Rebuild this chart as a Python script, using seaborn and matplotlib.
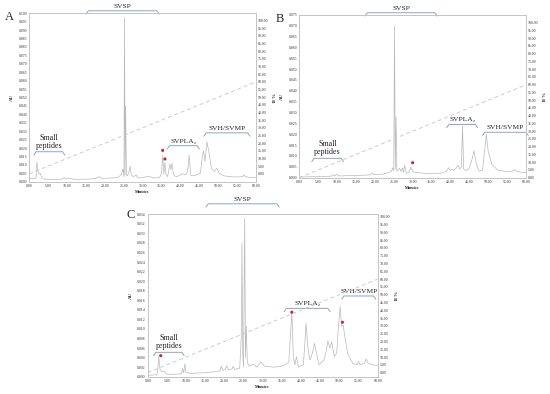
import numpy as np
import matplotlib
matplotlib.use("Agg")
import matplotlib.pyplot as plt
import seaborn as sns

# ---------------------------------------------------------------------------
# DATA
# ---------------------------------------------------------------------------
A_TIME = [0, 1.5, 1.8, 2.0, 2.3, 2.6, 2.9, 3.3, 4.0, 6, 8.8, 9.2, 9.6, 10.2, 12, 15,
          17.5, 18.5, 19.2, 21, 23.5, 24.4, 24.8, 25.05, 25.2, 25.35, 25.5, 25.7, 26.0,
          26.4, 26.7, 27.0, 27.5, 28.3, 28.6, 29, 30, 31.5, 33, 34.5, 35.0, 35.3, 35.6,
          35.9, 36.2, 36.6, 37.2, 37.5, 37.8, 38.1, 38.4, 39, 40, 40.6, 41.3, 41.9, 42.3,
          42.7, 43.2, 44.2, 45.3, 45.8, 46.1, 46.5, 47.0, 47.5, 48.2, 49.0, 49.6, 50.3,
          51.5, 53, 55, 56.5, 56.8, 57.2, 58.5, 60]
A_AU = [0.0018, 0.0018, 0.0025, 0.0117, 0.006, 0.0045, 0.005, 0.0025, 0.0015, 0.0014,
        0.0015, 0.0025, 0.0016, 0.0022, 0.0014, 0.0015, 0.0018, 0.003, 0.002, 0.0021,
        0.0025, 0.0045, 0.0075, 0.003, 0.0976, 0.004, 0.045, 0.004, 0.0035, 0.006,
        0.0093, 0.004, 0.003, 0.004, 0.0025, 0.0022, 0.0025, 0.0032, 0.0022, 0.0025,
        0.005, 0.0155, 0.0045, 0.0115, 0.004, 0.003, 0.0105, 0.007, 0.011, 0.005,
        0.0035, 0.003, 0.004, 0.0048, 0.004, 0.006, 0.0158, 0.004, 0.0035, 0.004,
        0.005, 0.015, 0.0184, 0.012, 0.0238, 0.018, 0.008, 0.006, 0.008, 0.005,
        0.0035, 0.003, 0.0028, 0.003, 0.0042, 0.003, 0.0025, 0.0025]

B_TIME = [0, 5, 8.5, 9.0, 9.4, 10.0, 10.5, 12, 15, 18.8, 19.2, 19.6, 22, 23.5, 24.3,
          24.7, 25.0, 25.2, 25.4, 25.6, 25.8, 26.5, 27.0, 27.3, 27.6, 27.9, 28.3, 29.0,
          29.5, 30.0, 30.5, 32, 35, 38, 39.0, 39.5, 40.0, 40.5, 40.9, 41.5, 42.0, 42.5,
          42.9, 43.2, 43.5, 44.2, 45.0, 45.8, 46.2, 46.8, 47.5, 48.5, 49.2, 49.5, 50.0,
          51.0, 52.5, 55, 56.5, 57.0, 57.5, 59, 60]
B_AU = [0.0003, 0.0005, 0.0007, 0.0015, 0.0008, 0.0016, 0.0008, 0.0009, 0.001, 0.0013,
        0.0022, 0.0014, 0.0016, 0.0023, 0.0028, 0.0045, 0.003, 0.0698, 0.004, 0.028,
        0.003, 0.0043, 0.0028, 0.0045, 0.0025, 0.0058, 0.002, 0.0025, 0.0048, 0.003,
        0.0025, 0.0022, 0.0018, 0.0022, 0.003, 0.0046, 0.0033, 0.004, 0.0033, 0.0045,
        0.0058, 0.004, 0.005, 0.0238, 0.004, 0.0032, 0.0045, 0.009, 0.0124, 0.007,
        0.003, 0.0035, 0.015, 0.0200, 0.012, 0.006, 0.0035, 0.0028, 0.003, 0.0038,
        0.003, 0.0024, 0.0024]

C_TIME = [0, 2.4, 2.6, 2.9, 3.2, 3.7, 4.2, 5, 7, 8.8, 9.1, 9.4, 9.7, 10.0, 11, 14, 17,
          18.8, 19.2, 19.6, 20.2, 20.6, 21, 22, 22.3, 22.7, 24.0, 24.4, 24.6, 24.8, 25.0,
          25.3, 25.5, 25.7, 26.0, 26.5, 27.5, 28.5, 29.5, 30.5, 33, 35, 36.8, 37.2, 37.6,
          38.0, 38.4, 38.8, 39.3, 40.6, 41.0, 41.3, 41.8, 42.3, 43.0, 43.5, 44.0, 44.7,
          46.0, 46.6, 47.0, 47.5, 48.0, 48.7, 49.3, 49.8, 50.2, 50.6, 51.0, 51.5, 52.2,
          53.5, 54.6, 55.0, 55.4, 56.5, 57.0, 57.5, 59, 60]
C_AU = [0.0003, 0.0004, 0.0012, 0.0043, 0.0015, 0.001, 0.0012, 0.0005, 0.0005, 0.0006,
        0.0017, 0.0008, 0.0027, 0.0009, 0.0007, 0.0008, 0.001, 0.0012, 0.0022, 0.0013,
        0.0015, 0.0023, 0.0015, 0.0016, 0.0022, 0.0015, 0.0018, 0.008, 0.0279, 0.005,
        0.002, 0.0332, 0.004, 0.0106, 0.003, 0.0022, 0.0026, 0.002, 0.0031, 0.0022,
        0.002, 0.0022, 0.003, 0.008, 0.0135, 0.004, 0.0025, 0.0042, 0.002, 0.0025,
        0.007, 0.0112, 0.006, 0.0035, 0.005, 0.007, 0.005, 0.0025, 0.0035, 0.0055,
        0.0075, 0.006, 0.0073, 0.0042, 0.005, 0.011, 0.0147, 0.0105, 0.0108, 0.008,
        0.0048, 0.0028, 0.0025, 0.0032, 0.0025, 0.0028, 0.0037, 0.0028, 0.0024, 0.0024]

# acetonitrile gradient (% B) — same for all three runs
GRAD_TIME = [0, 60]
GRAD_B = [0, 60]

# red dots marking peaks of interest
A_DOT_T, A_DOT_AU = [35.3, 35.9], [0.0186, 0.0135]
B_DOT_T, B_DOT_AU = [30.0], [0.0069]
C_DOT_T, C_DOT_AU = [3.4, 37.6, 50.8], [0.0044, 0.0135, 0.0114]

# toxin family brackets: (label, start min, end min, AU level)
A_GROUPS = [("SVSP", 15.0, 34.4, 0.1015), ("Small\npeptides", 1.2, 9.4, 0.0178),
            ("SVPLA₂", 36.5, 45.0, 0.0214), ("SVH/SVMP", 46.2, 58.4, 0.029)]
B_GROUPS = [("SVSP", 17.4, 36.5, 0.0759), ("Small\npeptides", 3.3, 11.7, 0.0089),
            ("SVPLA₂", 39.0, 47.2, 0.0245), ("SVH/SVMP", 48.5, 60.6, 0.0209)]
C_GROUPS = [("SVSP", 15.2, 34.3, 0.0362), ("Small\npeptides", 1.5, 9.5, 0.0051),
            ("SVPLA₂", 35.6, 47.6, 0.0143), ("SVH/SVMP", 50.6, 59.5, 0.0169)]

# ---------------------------------------------------------------------------
# STYLE
# ---------------------------------------------------------------------------
W, H = 550, 394
TRACE = "#b9b9b9"
GRAD = "#cccccc"
BRACKET = "#8ca6c6"
DOT = "#c0282d"
SERIF = ["Liberation Serif", "DejaVu Serif"]

# panel: (letter, time, au, dots, groups, au max, au step, %B limits, pixel box l,t,r,b, letter pos)
PANELS = [
    ("A", A_TIME, A_AU, (A_DOT_T, A_DOT_AU), A_GROUPS, 0.100, 0.005, (-5.2, 104.8),
     (29.3, 13.3, 256.0, 181.7), (9, 17)),
    ("B", B_TIME, B_AU, (B_DOT_T, B_DOT_AU), B_GROUPS, 0.075, 0.005, (0.0, 105.2),
     (299.3, 14.7, 526.0, 177.7), (280, 19)),
    ("C", C_TIME, C_AU, (C_DOT_T, C_DOT_AU), C_GROUPS, 0.034, 0.002, (-2.6, 101.5),
     (147.7, 214.3, 377.7, 376.7), (131, 215)),
]


def bracket(ax, label, x0, x1, y, ymax):
    drop = 0.02 * ymax
    r = 0.6
    ax.plot([x0, x0 + r, x1 - r, x1], [y - drop, y, y, y - drop],
            color=BRACKET, lw=0.7, clip_on=False, solid_joinstyle="round")
    nlines = label.count("\n") + 1
    ax.text((x0 + x1) / 2, y + 0.012 * ymax, label, ha="center", va="bottom",
            fontsize=5.4 if nlines == 1 else 5.8, family=SERIF, color="#222222",
            linespacing=1.0, clip_on=False)


def draw_panel(fig, spec):
    letter, t, au, dots, groups, ymax, ystep, blim, box, lpos = spec
    l, tp, r, b = box
    ax = fig.add_axes([l / W, 1 - b / H, (r - l) / W, (b - tp) / H])
    ax2 = ax.twinx()

    sns.lineplot(x=t, y=au, ax=ax, color=TRACE, lw=0.5, estimator=None, sort=False)
    sns.lineplot(x=GRAD_TIME, y=GRAD_B, ax=ax2, color=GRAD, lw=0.7,
                 linestyle=(0, (4, 3)), estimator=None)
    sns.scatterplot(x=dots[0], y=dots[1], ax=ax, color=DOT, s=5, edgecolor="none", zorder=5)

    ax.set_xlim(0, 60)
    ax.set_ylim(0, ymax)
    ax2.set_ylim(*blim)
    ax.set_xticks(np.arange(0, 61, 5))
    ax.set_xticklabels([f"{v:.2f}" for v in np.arange(0, 61, 5)])
    yt = np.arange(0, ymax + ystep / 2, ystep)
    ax.set_yticks(yt)
    ax.set_yticklabels([f"{v:.3f}" for v in yt])
    bt = np.arange(0, 101, 5)
    ax2.set_yticks(bt)
    ax2.set_yticklabels([f"{v:.2f}" for v in bt])

    for a in (ax, ax2):
        a.tick_params(length=0, pad=1.5, labelsize=2.8, colors="#333333")
        for sp in a.spines.values():
            sp.set_color("#c4c4c4")
            sp.set_linewidth(0.6)

    ax.set_xlabel("Minutes", fontsize=3, fontweight="bold", labelpad=1.5)
    ax.set_ylabel("AU", fontsize=3.5, fontweight="bold", labelpad=3)
    ax2.set_ylabel("% B", fontsize=3.5, fontweight="bold", labelpad=4, rotation=270)

    for label, x0, x1, y in groups:
        bracket(ax, label, x0, x1, y, ymax)

    fig.text(lpos[0] / W, 1 - lpos[1] / H, letter, fontsize=9, family=SERIF,
             ha="center", va="center")


def main():
    sns.set_theme(style="white")
    plt.rcParams["font.family"] = SERIF
    fig = plt.figure(figsize=(W / 100, H / 100), dpi=100)
    for spec in PANELS:
        draw_panel(fig, spec)
    fig.savefig("out.png", dpi=100)


if __name__ == "__main__":
    main()
